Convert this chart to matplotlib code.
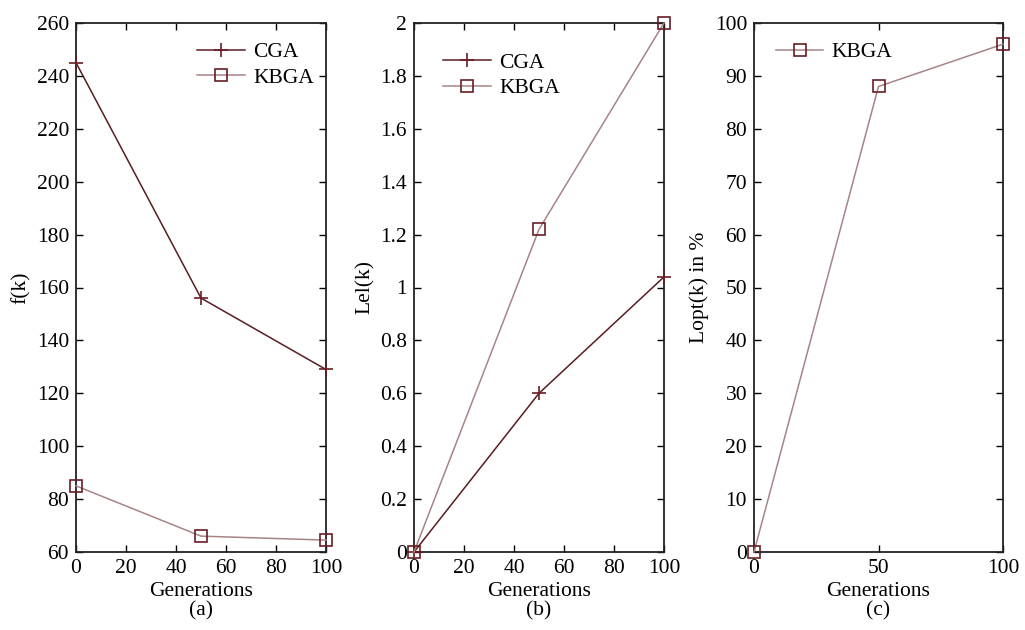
import matplotlib
matplotlib.use("Agg")
import matplotlib.pyplot as plt

plt.rcParams['font.family'] = ['Liberation Serif', 'DejaVu Serif']

gens = [0, 50, 100]
a_cga = [245, 156, 129]
a_kbga = [85, 66, 64.5]
b_cga = [0, 0.6, 1.04]
b_kbga = [0, 1.22, 2.0]
c_kbga = [0, 88, 96]

a_yticks = list(range(60, 261, 20))
b_yticks = [0, 0.2, 0.4, 0.6, 0.8, 1, 1.2, 1.4, 1.6, 1.8, 2]
b_yticklabels = ['0', '0.2', '0.4', '0.6', '0.8', '1', '1.2', '1.4', '1.6', '1.8', '2']
c_yticks = list(range(0, 101, 10))
ab_xticks = [0, 20, 40, 60, 80, 100]
c_xticks = [0, 50, 100]

CGA_LINE = '#5a1c22'
KBGA_LINE = '#a88486'
MARK = '#6a1e24'

W, H = 1025, 630
fig = plt.figure(figsize=(W / 100, H / 100), dpi=100)
top, bottom = 23, 552
boxes = [(76, 326), (414, 664), (754, 1003)]
axes = []
for l, r in boxes:
    ax = fig.add_axes([l / W, 1 - bottom / H, (r - l) / W, (bottom - top) / H])
    axes.append(ax)

fs = 15.5

def style(ax):
    for s in ax.spines.values():
        s.set_linewidth(1.3)
        s.set_color('#222222')
    ax.tick_params(direction='in', top=True, right=True, labelsize=fs, length=5, width=1, pad=5)

def cga(ax, y):
    ax.plot(gens, y, color=CGA_LINE, lw=1.1, marker='+', markersize=10,
            markeredgecolor=MARK, markeredgewidth=1.2, label='CGA', clip_on=False, zorder=3)

def kbga(ax, y):
    ax.plot(gens, y, color=KBGA_LINE, lw=1.1, marker='s', markersize=8.5,
            markerfacecolor='none', markeredgecolor=MARK, markeredgewidth=1.2,
            label='KBGA', clip_on=False, zorder=3)

def xlab(ax, tag):
    ax.set_xlabel('Generations\n' + tag, fontsize=fs, linespacing=1.0, labelpad=3)

leg_kw = dict(frameon=False, fontsize=fs, handlelength=2.2, handletextpad=0.4,
              borderaxespad=0.5, labelspacing=0.25)

ax = axes[0]
cga(ax, a_cga)
kbga(ax, a_kbga)
ax.set_xlim(0, 100)
ax.set_ylim(60, 260)
ax.set_xticks(ab_xticks)
ax.set_yticks(a_yticks)
ax.set_ylabel('f(k)', fontsize=fs, labelpad=4)
xlab(ax, '(a)')
ax.legend(loc='upper right', bbox_to_anchor=(1.03, 1.0), **leg_kw)
style(ax)

ax = axes[1]
cga(ax, b_cga)
kbga(ax, b_kbga)
ax.set_xlim(0, 100)
ax.set_ylim(0, 2)
ax.set_xticks(ab_xticks)
ax.set_yticks(b_yticks)
ax.set_yticklabels(b_yticklabels)
ax.set_ylabel('Lel(k)', fontsize=fs, labelpad=4)
xlab(ax, '(b)')
ax.legend(loc='upper left', bbox_to_anchor=(0.04, 0.98), **leg_kw)
style(ax)

ax = axes[2]
kbga(ax, c_kbga)
ax.set_xlim(0, 100)
ax.set_ylim(0, 100)
ax.set_xticks(c_xticks)
ax.set_yticks(c_yticks)
ax.set_ylabel('Lopt(k) in %', fontsize=fs, labelpad=4)
xlab(ax, '(c)')
ax.legend(loc='upper left', bbox_to_anchor=(0.01, 1.0), **leg_kw)
style(ax)

fig.savefig('out.png', dpi=100, facecolor='white')
